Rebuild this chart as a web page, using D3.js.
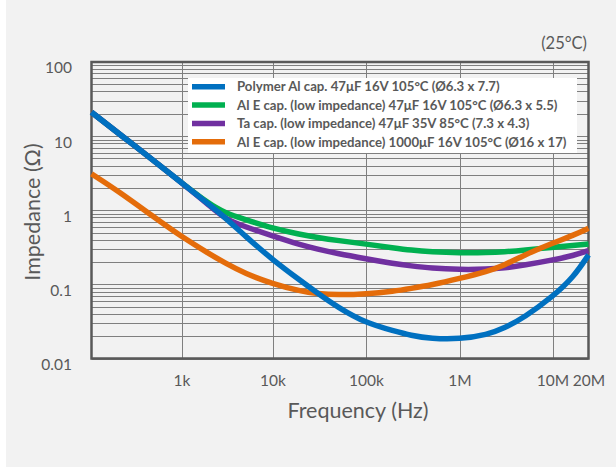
<!DOCTYPE html>
<head>
  <meta charset="utf-8">
  <script src="https://cdn.jsdelivr.net/npm/d3@7/dist/d3.min.js"></script>
</head>
<style>
  body { margin: 0; background: #ffffff; }
  text { font-family: Lato, "Open Sans", sans-serif; fill: #595959; }
</style>
<body>
<script>

// frequency points (Hz) used for each series
var freqs = [100, 200, 500, 1e3, 2e3, 3e3, 5e3, 1e4, 2e4, 3e4, 5e4, 1e5, 2e5, 3e5, 5e5, 1e6, 2e6, 3e6, 5e6, 1e7, 1.5e7, 2e7];

// impedance (ohm)
var polymerAl = [21, 10.9, 4.6, 2.35, 1.2, 0.8, 0.45, 0.215, 0.112, 0.077, 0.049, 0.03, 0.0235, 0.0205, 0.0185, 0.0182, 0.021, 0.0255, 0.036, 0.068, 0.125, 0.25];
var alE47 = [21, 10.9, 4.6, 2.35, 1.22, 0.92, 0.75, 0.57, 0.47, 0.43, 0.39, 0.35, 0.31, 0.29, 0.275, 0.266, 0.268, 0.274, 0.29, 0.317, 0.335, 0.35];
var taCap = [21, 10.9, 4.6, 2.35, 1.18, 0.76, 0.6, 0.45, 0.34, 0.3, 0.26, 0.222, 0.19, 0.178, 0.165, 0.158, 0.16, 0.166, 0.182, 0.213, 0.245, 0.285];
var alE1000 = [3.1, 1.8, 0.8, 0.44, 0.26, 0.195, 0.14, 0.102, 0.081, 0.075, 0.072, 0.074, 0.081, 0.088, 0.098, 0.12, 0.15, 0.18, 0.25, 0.36, 0.46, 0.57];

var seriesNames = [
  "Polymer Al cap. 47\u03bcF 16V 105\u00b0C (\u00d86.3 x 7.7)",
  "Al E cap. (low impedance) 47\u03bcF 16V 105\u00b0C (\u00d86.3 x 5.5)",
  "Ta cap. (low impedance) 47\u03bcF 35V 85\u00b0C (7.3 x 4.3)",
  "Al E cap. (low impedance) 1000\u03bcF 16V 105\u00b0C (\u00d816 x 17)"
];
var seriesColors = ["#0070c0", "#00b050", "#7030a0", "#e46c0a"];
var seriesValues = [polymerAl, alE47, taCap, alE1000];

var xTickValues = [1e3, 1e4, 1e5, 1e6, 1e7, 2e7];
var xTickLabels = ["1k", "10k", "100k", "1M", "10M", "20M"];
var yTickValues = [0.01, 0.1, 1, 10, 100];
var yTickLabels = ["0.01", "0.1", "1", "10", "100"];

var width = 616, height = 470;

var svg = d3.select("body").append("svg")
    .attr("width", width)
    .attr("height", height);

svg.append("rect")
    .attr("x", 6).attr("y", 0)
    .attr("width", width - 6).attr("height", 467)
    .attr("fill", "#f2f2f2");

// the decades are not evenly spaced in the original, so piecewise
var x = d3.scaleLog()
    .domain([100, 1e3, 1e4, 1e5, 1e6, 1e7, 2e7])
    .range([91.5, 181.5, 272.5, 366, 459.5, 552.5, 588.5]);

var y = d3.scaleLog()
    .domain([0.01, 100])
    .range([358.5, 62]);

var plot = svg.append("g");

// horizontal grid, majors and minors
var yGrid = [];
for (var e = -2; e < 2; e++) {
  for (var m = 1; m < 10; m++) yGrid.push(m * Math.pow(10, e));
}
plot.selectAll(".hgrid")
    .data(yGrid)
  .enter().append("line")
    .attr("class", "hgrid")
    .attr("x1", x.range()[0]).attr("x2", x.range()[6])
    .attr("y1", function(d) { return Math.round(y(d)) + 0.5; })
    .attr("y2", function(d) { return Math.round(y(d)) + 0.5; })
    .attr("stroke", "#7f7f7f")
    .attr("stroke-width", 1);

plot.selectAll(".vgrid")
    .data([1e3, 1e4, 1e5, 1e6, 1e7])
  .enter().append("line")
    .attr("class", "vgrid")
    .attr("x1", function(d) { return Math.round(x(d)) + 0.5; })
    .attr("x2", function(d) { return Math.round(x(d)) + 0.5; })
    .attr("y1", y(100)).attr("y2", y(0.01))
    .attr("stroke", "#7f7f7f")
    .attr("stroke-width", 1);

// frame
plot.append("rect")
    .attr("x", x(100)).attr("y", y(100))
    .attr("width", x(2e7) - x(100))
    .attr("height", y(0.01) - y(100))
    .attr("fill", "none")
    .attr("stroke", "#595959")
    .attr("stroke-width", 2.5);

// axes (labels only, gridlines drawn above)
var xAxis = d3.axisBottom(x)
    .tickValues(xTickValues)
    .tickSize(0)
    .tickPadding(0)
    .tickFormat(function(d, i) { return xTickLabels[i]; });

var gx = svg.append("g")
    .attr("transform", "translate(0," + 375 + ")")
    .call(xAxis);
gx.select(".domain").remove();
gx.selectAll("text").attr("font-size", 15.5).attr("dy", "0.71em")
    .attr("font-family", "Lato, sans-serif").attr("fill", "#595959");

var yAxis = d3.axisLeft(y)
    .tickValues(yTickValues)
    .tickSize(0)
    .tickPadding(0)
    .tickFormat(function(d, i) { return yTickLabels[i]; });

var gy = svg.append("g")
    .attr("transform", "translate(" + 72 + "," + 6 + ")")
    .call(yAxis);
gy.select(".domain").remove();
gy.selectAll("text").attr("font-size", 15.5)
    .attr("font-family", "Lato, sans-serif").attr("fill", "#595959");

// curves
var line = d3.line()
    .x(function(d) { return x(d[0]); })
    .y(function(d) { return y(d[1]); })
    .curve(d3.curveBasis);

var drawOrder = [1, 2, 3, 0];
drawOrder.forEach(function(s) {
  var pts = freqs.map(function(f, i) { return [f, seriesValues[s][i]]; });
  plot.append("path")
      .attr("d", line(pts))
      .attr("fill", "none")
      .attr("stroke", seriesColors[s])
      .attr("stroke-width", 5.5)
      .attr("stroke-linejoin", "round");
});

// legend
var legend = svg.append("g");
legend.append("rect")
    .attr("x", 188).attr("y", 78)
    .attr("width", 389).attr("height", 75)
    .attr("fill", "#ffffff");

var items = legend.selectAll(".item")
    .data(seriesNames)
  .enter().append("g")
    .attr("class", "item")
    .attr("transform", function(d, i) { return "translate(0," + (86.7 + i * 18.35) + ")"; });

items.append("line")
    .attr("x1", 192).attr("x2", 225)
    .attr("stroke", function(d, i) { return seriesColors[i]; })
    .attr("stroke-width", 5.5);

items.append("text")
    .attr("x", 237)
    .attr("dy", "0.36em")
    .attr("font-size", 13.2)
    .attr("font-weight", "bold")
    .text(function(d) { return d; });

// titles
svg.append("text")
    .attr("x", 358).attr("y", 418)
    .attr("text-anchor", "middle")
    .attr("font-size", 21.5)
    .text("Frequency (Hz)");

svg.append("text")
    .attr("transform", "translate(40,212) rotate(-90)")
    .attr("text-anchor", "middle")
    .attr("font-size", 21.5)
    .text("Impedance (\u03a9)");

svg.append("text")
    .attr("x", 587).attr("y", 49)
    .attr("text-anchor", "end")
    .attr("font-size", 16.5)
    .text("(25\u00b0C)");

</script>
</body>
